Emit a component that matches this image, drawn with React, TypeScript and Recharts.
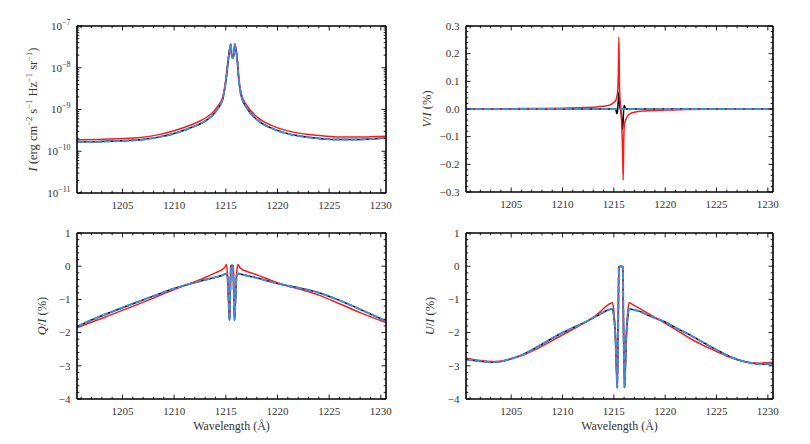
import React from 'react';
import { LineChart, Line, XAxis, YAxis } from 'recharts';

const FONT = '"Liberation Serif", "Times New Roman", serif';
const INK = '#333333';
const RED = '#ff1a1a';
const BLUE = '#3b8fe0';
const BLACK = '#000000';

// ---------- shared wavelength axis ----------
const wavelengthDomain: [number, number] = [1200.6, 1230.5];
const wavelengthTicks = [1205, 1210, 1215, 1220, 1225, 1230];

// ---------- panel 1: I (log scale) ----------
const wlI = [1200.6, 1202.5, 1204.5, 1206.8, 1208.5, 1210, 1211.6, 1212.5, 1213.25, 1213.8, 1214.2, 1214.7, 1215.03, 1215.25, 1215.4, 1215.48, 1215.56, 1215.67, 1215.78, 1215.87, 1215.95, 1216.1, 1216.25, 1216.5, 1217.1, 1218.1, 1219.7, 1221.3, 1222.8, 1224.3, 1226, 1228, 1230.5];
const iBlue = [1.68e-10, 1.7e-10, 1.76e-10, 1.88e-10, 2.18e-10, 2.67e-10, 3.67e-10, 4.5e-10, 5.8e-10, 7.6e-10, 1.02e-9, 1.78e-9, 5.4e-9, 1.65e-8, 3.0e-8, 3.7e-8, 2.1e-8, 1.7e-8, 2.1e-8, 3.7e-8, 3.0e-8, 1.65e-8, 5.4e-9, 2.1e-9, 1.02e-9, 5.5e-10, 3.34e-10, 2.53e-10, 2.2e-10, 2.0e-10, 1.9e-10, 1.92e-10, 2.08e-10];
const iBlack = [1.68e-10, 1.7e-10, 1.76e-10, 1.88e-10, 2.18e-10, 2.67e-10, 3.67e-10, 4.5e-10, 5.8e-10, 7.6e-10, 1.02e-9, 1.78e-9, 5.4e-9, 1.65e-8, 3.0e-8, 3.7e-8, 2.1e-8, 1.7e-8, 2.1e-8, 3.7e-8, 3.0e-8, 1.65e-8, 5.4e-9, 2.1e-9, 1.02e-9, 5.5e-10, 3.34e-10, 2.53e-10, 2.2e-10, 2.0e-10, 1.9e-10, 1.92e-10, 2.08e-10];
const iRed = [1.88e-10, 1.92e-10, 2.0e-10, 2.14e-10, 2.5e-10, 3.1e-10, 4.25e-10, 5.3e-10, 6.8e-10, 8.8e-10, 1.18e-9, 2.0e-9, 5.8e-9, 1.7e-8, 3.0e-8, 3.7e-8, 2.1e-8, 1.7e-8, 2.1e-8, 3.7e-8, 3.0e-8, 1.7e-8, 5.8e-9, 2.35e-9, 1.18e-9, 6.4e-10, 3.9e-10, 2.95e-10, 2.55e-10, 2.35e-10, 2.2e-10, 2.2e-10, 2.3e-10];
const iTicks = [1e-11, 1e-10, 1e-9, 1e-8, 1e-7];

// ---------- panel 2: V/I ----------
const wlV = [1200.6, 1204, 1206, 1208, 1210, 1212, 1213.5, 1214.3, 1214.8, 1215.05, 1215.2, 1215.29, 1215.36, 1215.43, 1215.49, 1215.55, 1215.61, 1215.67, 1215.73, 1215.79, 1215.85, 1215.91, 1215.96, 1216.02, 1216.1, 1216.2, 1216.35, 1216.6, 1217, 1218, 1219, 1220, 1222, 1224, 1230.5];
const vRed = [0.0005, 0.001, 0.0015, 0.002, 0.003, 0.005, 0.008, 0.012, 0.018, 0.025, 0.032, 0.045, 0.06, 0.12, 0.26, 0.08, 0.03, 0.005, -0.03, -0.08, -0.15, -0.257, -0.12, -0.06, -0.045, -0.035, -0.025, -0.017, -0.012, -0.007, -0.005, -0.004, -0.002, -0.001, -0.0005];
const vBlack = [0, 0, 0, 0, 0, 0, 0, 0, 0, 0, -0.004, -0.017, -0.008, 0.03, 0.061, 0.025, 0.005, -0.005, -0.02, -0.045, -0.073, -0.04, 0.0, 0.013, 0.004, 0, 0, 0, 0, 0, 0, 0, 0, 0, 0];
const vBlue = [0, 0, 0, 0, 0, 0, 0, 0, 0, 0, 0, 0, 0, 0, 0, 0, 0, 0, 0, 0, 0, 0, 0, 0, 0, 0, 0, 0, 0, 0, 0, 0, 0, 0, 0];
const vTicks = [-0.3, -0.2, -0.1, 0, 0.1, 0.2, 0.3];

// ---------- panel 3: Q/I ----------
const wlQ = [1200.6, 1202, 1204, 1206, 1208, 1210, 1211, 1212, 1213, 1214, 1214.6, 1214.9, 1215.05, 1215.15, 1215.25, 1215.36, 1215.43, 1215.49, 1215.6, 1215.71, 1215.77, 1215.84, 1215.95, 1216.05, 1216.17, 1216.35, 1216.6, 1217, 1218, 1219, 1220, 1221, 1222, 1224, 1226, 1228, 1230.5];
const qBlue = [-1.82, -1.62, -1.37, -1.13, -0.9, -0.67, -0.58, -0.49, -0.41, -0.33, -0.28, -0.24, -0.22, -0.28, -0.9, -1.63, -0.8, -0.02, 0.02, -0.02, -0.8, -1.63, -0.9, -0.28, -0.22, -0.23, -0.25, -0.28, -0.35, -0.44, -0.52, -0.59, -0.65, -0.8, -1.03, -1.3, -1.65];
const qBlack = [-1.82, -1.62, -1.37, -1.13, -0.9, -0.67, -0.58, -0.49, -0.41, -0.33, -0.28, -0.24, -0.22, -0.28, -0.9, -1.63, -0.8, 0.0, 0.03, 0.0, -0.8, -1.63, -0.9, -0.28, -0.22, -0.23, -0.25, -0.28, -0.35, -0.44, -0.52, -0.59, -0.65, -0.8, -1.03, -1.3, -1.65];
const qRed = [-1.85, -1.69, -1.45, -1.21, -0.96, -0.7, -0.58, -0.47, -0.34, -0.2, -0.11, -0.03, 0.05, -0.2, -0.9, -1.63, -0.8, -0.02, 0.02, -0.02, -0.8, -1.63, -0.9, -0.2, 0.05, -0.04, -0.1, -0.15, -0.26, -0.38, -0.5, -0.6, -0.68, -0.87, -1.13, -1.4, -1.7];
const quTicks = [-4, -3, -2, -1, 0, 1];

// ---------- panel 4: U/I ----------
const wlU = [1200.6, 1202, 1203, 1204, 1205, 1206, 1207.5, 1209, 1210, 1211, 1212.5, 1213.5, 1214.2, 1214.6, 1214.87, 1215.0, 1215.15, 1215.27, 1215.33, 1215.42, 1215.49, 1215.68, 1215.87, 1215.94, 1216.04, 1216.1, 1216.22, 1216.36, 1216.5, 1216.8, 1217.5, 1218.5, 1220, 1221, 1222.4, 1224, 1225, 1226.5, 1227.6, 1229.2, 1230.5];
const uBlue = [-2.8, -2.86, -2.89, -2.87, -2.79, -2.68, -2.44, -2.17, -2.0, -1.86, -1.64, -1.47, -1.35, -1.3, -1.28, -1.5, -2.1, -3.2, -3.66, -1.8, -0.02, 0.0, -0.02, -1.8, -3.66, -3.2, -2.1, -1.5, -1.28, -1.3, -1.36, -1.5, -1.68, -1.85, -2.07, -2.35, -2.52, -2.75, -2.86, -2.95, -2.93];
const uBlack = [-2.8, -2.86, -2.89, -2.87, -2.79, -2.68, -2.44, -2.17, -2.0, -1.86, -1.64, -1.47, -1.35, -1.3, -1.28, -1.5, -2.1, -3.2, -3.66, -1.8, -0.02, 0.0, -0.02, -1.8, -3.66, -3.2, -2.1, -1.5, -1.28, -1.3, -1.36, -1.5, -1.68, -1.85, -2.07, -2.35, -2.52, -2.75, -2.86, -2.95, -2.93];
const uRed = [-2.77, -2.84, -2.87, -2.86, -2.79, -2.7, -2.49, -2.24, -2.07, -1.9, -1.64, -1.42, -1.22, -1.13, -1.1, -1.35, -2.05, -3.2, -3.66, -1.8, -0.02, 0.0, -0.02, -1.8, -3.66, -3.2, -2.05, -1.35, -1.1, -1.15, -1.27, -1.45, -1.72, -1.9, -2.17, -2.43, -2.57, -2.77, -2.87, -2.92, -2.89];

// ---------- helpers ----------
type Row = { wl: number; black: number; red: number; blue: number };
const buildRows = (wl: number[], black: number[], red: number[], blue: number[]): Row[] =>
  wl.map((w, i) => ({ wl: w, black: black[i], red: red[i], blue: blue[i] }));

const linearMinors = (lo: number, hi: number, step: number): number[] => {
  const out: number[] = [];
  for (let k = Math.ceil(lo / step - 1e-9); k <= Math.floor(hi / step + 1e-9); k++) out.push(Math.round(k * step * 1e6) / 1e6);
  return out;
};
const logMinors = (decades: number[]): number[] => {
  const out: number[] = [];
  decades.forEach((d, i) => {
    if (i === decades.length - 1) { out.push(d); return; }
    for (let k = 1; k <= 9; k++) out.push(k * d);
  });
  return out;
};

const near = (v: number, list: number[]) => list.some((m) => Math.abs(m - v) <= Math.abs(m) * 1e-6 + 1e-15);
const minus = (s: string) => s.replace('-', '\u2212');

const fmtInt = (v: number) => minus(String(Math.round(v)));
const fmtOne = (v: number) => (Math.abs(v) < 1e-9 ? '0.0' : minus(v.toFixed(1)));
const fmtPow = (v: number) => {
  const e = Math.round(Math.log10(v));
  return [
    <tspan key="b">10</tspan>,
    <tspan key="e" dy={-5} fontSize={8}>{minus(String(e))}</tspan>,
  ];
};

type Side = 'bottom' | 'top' | 'left' | 'right';
const MAJOR_LEN = 4.5;
const MINOR_LEN = 2.3;
const TICK_FONT = 11;

const tickRenderer = (side: Side, majors: number[], fmt?: (v: number) => React.ReactNode) => (props: any) => {
  const { x, y, payload } = props;
  const v = Number(payload.value);
  const major = near(v, majors);
  const len = major ? MAJOR_LEN : MINOR_LEN;
  let x2 = x;
  let y2 = y;
  if (side === 'bottom') y2 = y - len;
  else if (side === 'top') y2 = y + len;
  else if (side === 'left') x2 = x + len;
  else x2 = x - len;
  let label: React.ReactNode = null;
  if (fmt && major) {
    if (side === 'bottom') {
      label = (
        <text x={x} y={y + 16} textAnchor="middle" fontSize={TICK_FONT} fontFamily={FONT} fill={INK}>
          {fmt(v)}
        </text>
      );
    } else {
      label = (
        <text x={x - 6.5} y={y + 3.8} textAnchor="end" fontSize={TICK_FONT} fontFamily={FONT} fill={INK}>
          {fmt(v)}
        </text>
      );
    }
  }
  return (
    <g>
      <line x1={x} y1={y} x2={x2} y2={y2} stroke="#000" strokeWidth={0.9} />
      {label}
    </g>
  );
};

const yLabel = (cx: number, content: React.ReactNode) => (props: any) => {
  const vb = props.viewBox || {};
  const cy = (vb.y ?? 0) + (vb.height ?? 0) / 2;
  return (
    <text
      x={cx}
      y={cy}
      transform={`rotate(-90, ${cx}, ${cy})`}
      textAnchor="middle"
      dominantBaseline="central"
      fontSize={12.5}
      fontFamily={FONT}
      fill={INK}
    >
      {content}
    </text>
  );
};

const xLabel = (props: any) => {
  const vb = props.viewBox || {};
  const cx = (vb.x ?? 0) + (vb.width ?? 0) / 2;
  const y = (vb.y ?? 0) + 31;
  return (
    <text x={cx} y={y} textAnchor="middle" fontSize={12} fontFamily={FONT} fill={INK}>
      Wavelength (Å)
    </text>
  );
};

const sup = (t: string, rest: string, k: string) => [
  <tspan key={k + 'a'} dy={-4.5} fontSize={8.5}>{t}</tspan>,
  <tspan key={k + 'b'} dy={4.5}>{rest}</tspan>,
];

const iLabelText = [
  <tspan key="i" fontStyle="italic">I</tspan>,
  <tspan key="p"> (erg cm</tspan>,
  ...sup('\u22122', ' s', '1'),
  ...sup('\u22121', ' Hz', '2'),
  ...sup('\u22121', ' sr', '3'),
  ...sup('\u22121', ')', '4'),
];
const ratioLabel = (s: string) => [
  <tspan key="a" fontStyle="italic">{s}</tspan>,
  <tspan key="b">/</tspan>,
  <tspan key="c" fontStyle="italic">I</tspan>,
  <tspan key="d"> (%)</tspan>,
];

const frame = { stroke: '#000', strokeWidth: 1.6 };
const xAllTicks = linearMinors(wavelengthDomain[0], wavelengthDomain[1], 1);

type PanelProps = {
  left: number;
  top: number;
  data: Row[];
  yScale: 'linear' | 'log';
  yDomain: [number, number];
  yAllTicks: number[];
  yMajors: number[];
  yFmt: (v: number) => React.ReactNode;
  margin: { top: number; right: number; bottom: number; left: number };
  xAxisHeight: number;
  yLabelContent: (props: any) => React.ReactNode;
  withXLabel: boolean;
};

function Panel(p: PanelProps) {
  return (
    <div style={{ position: 'absolute', left: p.left, top: p.top, width: 405, height: 222 }}>
      <LineChart width={405} height={222} data={p.data} margin={p.margin}>
        <XAxis
          xAxisId="b"
          dataKey="wl"
          type="number"
          domain={wavelengthDomain}
          allowDataOverflow
          ticks={xAllTicks}
          interval={0}
          tickSize={0}
          tickMargin={0}
          tickLine={false}
          axisLine={frame}
          tick={tickRenderer('bottom', wavelengthTicks, fmtInt)}
          height={p.xAxisHeight}
          label={p.withXLabel ? xLabel : undefined}
        />
        <XAxis
          xAxisId="t"
          orientation="top"
          dataKey="wl"
          type="number"
          domain={wavelengthDomain}
          allowDataOverflow
          ticks={xAllTicks}
          interval={0}
          tickSize={0}
          tickMargin={0}
          tickLine={false}
          axisLine={frame}
          tick={tickRenderer('top', wavelengthTicks)}
          height={8}
        />
        <YAxis
          yAxisId="l"
          type="number"
          scale={p.yScale}
          domain={p.yDomain}
          allowDataOverflow
          ticks={p.yAllTicks}
          interval={0}
          tickSize={0}
          tickMargin={0}
          tickLine={false}
          axisLine={frame}
          tick={tickRenderer('left', p.yMajors, p.yFmt)}
          width={50}
          label={p.yLabelContent}
        />
        <YAxis
          yAxisId="r"
          orientation="right"
          type="number"
          scale={p.yScale}
          domain={p.yDomain}
          allowDataOverflow
          ticks={p.yAllTicks}
          interval={0}
          tickSize={0}
          tickMargin={0}
          tickLine={false}
          axisLine={frame}
          tick={tickRenderer('right', p.yMajors)}
          width={8}
        />
        <Line xAxisId="b" yAxisId="l" dataKey="black" type="monotone" stroke={BLACK} strokeWidth={1.5} dot={false} activeDot={false} isAnimationActive={false} />
        <Line xAxisId="b" yAxisId="l" dataKey="red" type="monotone" stroke={RED} strokeWidth={1.5} dot={false} activeDot={false} isAnimationActive={false} />
        <Line xAxisId="b" yAxisId="l" dataKey="blue" type="monotone" stroke={BLUE} strokeWidth={2} strokeDasharray="7 2" dot={false} activeDot={false} isAnimationActive={false} />
      </LineChart>
    </div>
  );
}

export default function App() {
  const dataI = buildRows(wlI, iBlack, iRed, iBlue);
  const dataV = buildRows(wlV, vBlack, vRed, vBlue);
  const dataQ = buildRows(wlQ, qBlack, qRed, qBlue);
  const dataU = buildRows(wlU, uBlack, uRed, uBlue);

  return (
    <div style={{ position: 'absolute', left: 0, top: 0, width: 810, height: 444, background: '#fff', fontFamily: FONT }}>
      <Panel
        left={0}
        top={0}
        data={dataI}
        yScale="log"
        yDomain={[1e-11, 1e-7]}
        yAllTicks={logMinors(iTicks)}
        yMajors={iTicks}
        yFmt={fmtPow}
        margin={{ top: 18, right: 11, bottom: 4, left: 27 }}
        xAxisHeight={25}
        yLabelContent={yLabel(33, iLabelText)}
        withXLabel={false}
      />
      <Panel
        left={405}
        top={0}
        data={dataV}
        yScale="linear"
        yDomain={[-0.3, 0.3]}
        yAllTicks={linearMinors(-0.3, 0.3, 0.02)}
        yMajors={vTicks}
        yFmt={fmtOne}
        margin={{ top: 18, right: 29, bottom: 5, left: 11 }}
        xAxisHeight={25}
        yLabelContent={yLabel(22, ratioLabel('V'))}
        withXLabel={false}
      />
      <Panel
        left={0}
        top={222}
        data={dataQ}
        yScale="linear"
        yDomain={[-4, 1]}
        yAllTicks={linearMinors(-4, 1, 0.2)}
        yMajors={quTicks}
        yFmt={fmtInt}
        margin={{ top: 3, right: 11, bottom: 5, left: 27 }}
        xAxisHeight={40}
        yLabelContent={yLabel(42, ratioLabel('Q'))}
        withXLabel={true}
      />
      <Panel
        left={405}
        top={222}
        data={dataU}
        yScale="linear"
        yDomain={[-4, 1]}
        yAllTicks={linearMinors(-4, 1, 0.2)}
        yMajors={quTicks}
        yFmt={fmtInt}
        margin={{ top: 3, right: 29, bottom: 5, left: 11 }}
        xAxisHeight={40}
        yLabelContent={yLabel(25, ratioLabel('U'))}
        withXLabel={true}
      />
    </div>
  );
}
